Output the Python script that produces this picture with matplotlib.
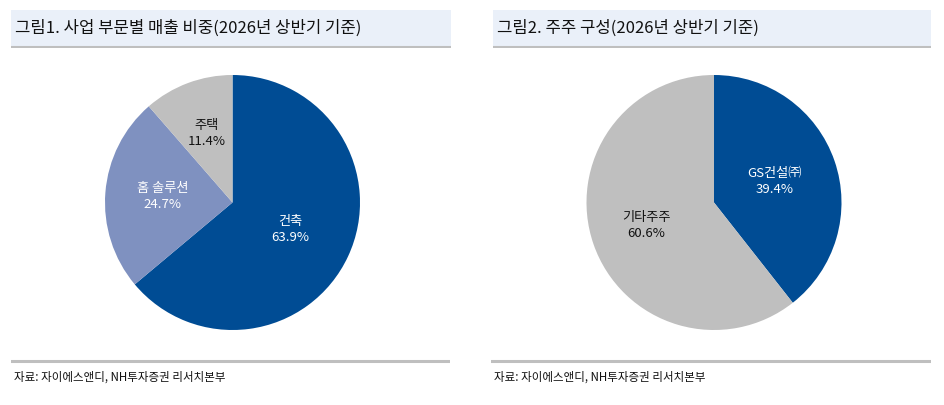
import matplotlib.pyplot as plt
from matplotlib.patches import Rectangle
import numpy as np

plt.rcParams['font.family'] = ['Noto Sans CJK KR', 'DejaVu Sans']

# --- data ---
titles = ['그림1. 사업 부문별 매출 비중(2026년 상반기 기준)', '그림2. 주주 구성(2026년 상반기 기준)']
source = '자료: 자이에스앤디, NH투자증권 리서치본부'

biz_labels = ['건축', '홈 솔루션', '주택']
biz_values = [63.9, 24.7, 11.4]

holder_labels = ['GS건설㈜', '기타주주']
holder_values = [39.4, 60.6]

blue = '#004C94'
light_blue = '#7F91C0'
gray = '#BFBFBF'

W, H = 945, 405
fig = plt.figure(figsize=(W / 100, H / 100), dpi=100)


def px_axes(x0, y0, x1, y1):
    # pixel box (top-left origin) -> figure axes
    return fig.add_axes([x0 / W, 1 - y1 / H, (x1 - x0) / W, (y1 - y0) / H])


def header(x0, x1, text):
    ax = px_axes(x0, 10, x1, 48)
    ax.set_xlim(0, 1)
    ax.set_ylim(0, 1)
    ax.axis('off')
    ax.add_patch(Rectangle((0, 0), 1, 1, facecolor='#EAF0F9', edgecolor='none'))
    ax.axhline(0.02, color=gray, lw=2.2)
    ax.text(4 / (x1 - x0), 0.52, text, fontsize=12, va='center', ha='left', color='#111111')


def footer(x0, x1):
    ax = px_axes(x0, 355, x1, 395)
    ax.set_xlim(0, 1)
    ax.set_ylim(0, 1)
    ax.axis('off')
    ax.axhline(0.85, color=gray, lw=2.2)
    ax.text(3 / (x1 - x0), 0.45, source, fontsize=8.3, va='center', ha='left', color='#111111')


def draw_pie(cx, labels, values, colors, text_colors, dist):
    ax = px_axes(cx - 127.5, 75, cx + 127.5, 330)
    wedges, _ = ax.pie(values, colors=colors, startangle=90, counterclock=False,
                       wedgeprops=dict(linewidth=0))
    for w, lab, v, tc, d in zip(wedges, labels, values, text_colors, dist):
        ang = np.deg2rad((w.theta1 + w.theta2) / 2)
        ax.text(d * np.cos(ang), d * np.sin(ang), f'{lab}\n{v:.1f}%', ha='center', va='center',
                fontsize=9.5, color=tc, linespacing=1.3)
    ax.set_xlim(-1, 1)
    ax.set_ylim(-1, 1)
    ax.set_aspect('equal')
    ax.axis('off')


header(11, 451, titles[0])
header(493, 931, titles[1])

draw_pie(232.5, biz_labels, biz_values, [blue, light_blue, gray], ['white', 'white', '#111111'],
         [0.5, 0.55, 0.58])
draw_pie(714, holder_labels, holder_values, [blue, gray], ['white', '#111111'], [0.5, 0.56])

footer(11, 450)
footer(491, 931)

fig.savefig('out.png', dpi=100)
